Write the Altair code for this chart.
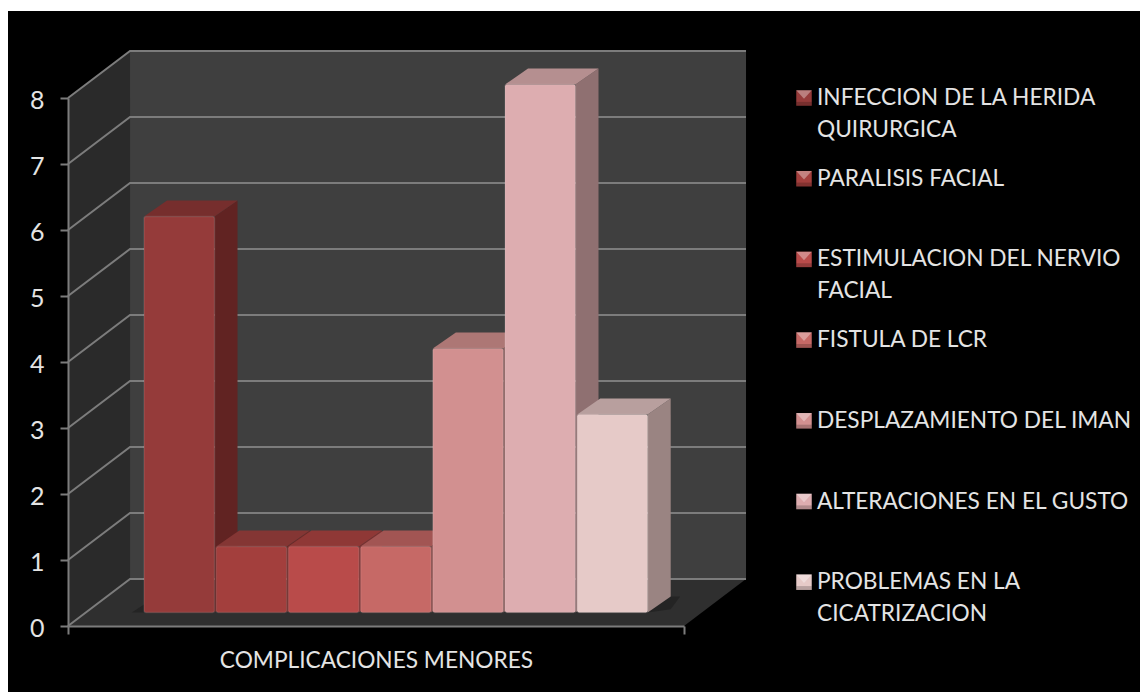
import altair as alt
import pandas as pd

# ---- values
series = ["INFECCION DE LA HERIDA QUIRURGICA", "PARALISIS FACIAL", "ESTIMULACION DEL NERVIO FACIAL",
          "FISTULA DE LCR", "DESPLAZAMIENTO DEL IMAN", "ALTERACIONES EN EL GUSTO",
          "PROBLEMAS EN LA CICATRIZACION"]
legend_lines = [["INFECCION DE LA HERIDA", "QUIRURGICA"], ["PARALISIS FACIAL"],
                ["ESTIMULACION DEL NERVIO", "FACIAL"], ["FISTULA DE LCR"],
                ["DESPLAZAMIENTO DEL IMAN"], ["ALTERACIONES EN EL GUSTO"],
                ["PROBLEMAS EN LA", "CICATRIZACION"]]
values = [6, 1, 1, 1, 4, 8, 3]
category = "COMPLICACIONES MENORES"
y_ticks = [0, 1, 2, 3, 4, 5, 6, 7, 8]

# ---- styles
front = ["#953B3A", "#A33F3D", "#B94B4A", "#C66966", "#D29090", "#DDADB0", "#E6CAC8"]
top_c = ["#762E2D", "#843634", "#8F3836", "#A25553", "#AD7775", "#B58F90", "#B89F9E"]
side = ["#612322", "#6E2A28", "#7A3030", "#854B49", "#8C6261", "#8F7071", "#9A8482"]
WALL, SIDEWALL, FLOOR, GRID, TEXT = "#3F3F3F", "#2A2A2A", "#2F2F2F", "#7C7C7C", "#E4E4E4"
FONT = "Lato"

# ---- geometry in axis units (1 x unit = one bar pitch)
X_MAX = 8.532
WALL_DX, WALL_DY = 0.859, 0.712
BAR_X0, BAR_W, BAR_BASE = 1.053, 0.976, 0.205
BAR_DX, BAR_DY = 0.319, 0.242

fronts, sides, tops = [], [], []
for i, (s, v) in enumerate(zip(series, values)):
    x0 = BAR_X0 + i
    x1 = x0 + BAR_W
    b, t = BAR_BASE, BAR_BASE + v
    fronts.append(dict(s=s, c=front[i], x=x0, x2=x1, y=b, y2=t))
    sides += [dict(s=s, c=side[i], x=x1, y=b, y2=t), dict(s=s, c=side[i], x=x1 + BAR_DX, y=b + BAR_DY, y2=t + BAR_DY)]
    tops += [dict(s=s, c=top_c[i], y=t, x=x0, x2=x1), dict(s=s, c=top_c[i], y=t + BAR_DY, x=x0 + BAR_DX, x2=x1 + BAR_DX)]

xs = alt.Scale(domain=[0, X_MAX], nice=False, zero=False)
ys = alt.Scale(domain=[0, 8], nice=False, zero=False)
x_axis = alt.Axis(values=[0, X_MAX], labels=False, grid=False, tickSize=8, tickColor=GRID, tickWidth=2,
                  domainColor=GRID, domainWidth=2, titleColor=TEXT, titleFont=FONT, titleFontSize=22.7,
                  titleFontWeight="normal", titlePadding=14, zindex=1)
y_axis = alt.Axis(values=y_ticks, format="d", grid=False, tickSize=8, tickColor=GRID, tickWidth=2,
                  domainColor=GRID, domainWidth=2, labelColor=TEXT, labelFont=FONT, labelFontSize=25,
                  labelPadding=16, labelOffset=2, zindex=1)
X = lambda f="x": alt.X(f"{f}:Q", scale=xs, axis=x_axis, title=category)
Y = lambda f="y": alt.Y(f"{f}:Q", scale=ys, axis=y_axis, title=None, stack=None)
C = alt.Color("c:N", scale=None, legend=None)

# walls and floor
back = alt.Chart(pd.DataFrame([dict(x=WALL_DX, x2=X_MAX + WALL_DX, y=WALL_DY, y2=8 + WALL_DY)])).mark_rect(
    color=WALL).encode(x=X(), x2="x2:Q", y=Y(), y2="y2:Q")
left_wall = alt.Chart(pd.DataFrame([dict(x=0, y=0, y2=8), dict(x=WALL_DX, y=WALL_DY, y2=8 + WALL_DY)])).mark_area(
    color=SIDEWALL, opacity=1).encode(x=X(), y=Y(), y2="y2:Q")
floor = alt.Chart(pd.DataFrame([dict(y=0, x=0, x2=X_MAX), dict(y=WALL_DY, x=WALL_DX, x2=X_MAX + WALL_DX)])).mark_area(
    color=FLOOR, opacity=1, orient="horizontal").encode(y=Y(), x=X(), x2="x2:Q")

# grid
grid_rows = []
for v in y_ticks:
    grid_rows += [dict(v=v, o=0, x=0, y=v), dict(v=v, o=1, x=WALL_DX, y=v + WALL_DY),
                  dict(v=v, o=2, x=X_MAX + WALL_DX, y=v + WALL_DY)]
grid = alt.Chart(pd.DataFrame(grid_rows)).mark_line(color=GRID, strokeWidth=2).encode(
    x=X(), y=Y(), detail="v:N", order="o:Q")

# floor shadows either side of the bars
shadow = alt.Chart(pd.DataFrame([
    dict(x=BAR_X0 + 6 + BAR_W, y=BAR_BASE, y2=BAR_BASE),
    dict(x=BAR_X0 + 6 + BAR_W + BAR_DX, y=BAR_BASE + BAR_DY * 0.2, y2=BAR_BASE + BAR_DY),
    dict(x=BAR_X0 + 6 + BAR_W + 0.45, y=BAR_BASE + BAR_DY, y2=BAR_BASE + BAR_DY),
])).mark_area(color="#242424", opacity=1).encode(x=X(), y=Y(), y2="y2:Q")
shadow_l = alt.Chart(pd.DataFrame([
    dict(x=BAR_X0 - 0.17, y=BAR_BASE, y2=BAR_BASE),
    dict(x=BAR_X0, y=BAR_BASE, y2=BAR_BASE + 0.12),
])).mark_area(color="#242424", opacity=1).encode(x=X(), y=Y(), y2="y2:Q")

# bars
side_l = alt.Chart(pd.DataFrame(sides)).mark_area(opacity=1).encode(
    x=X(), y=Y(), y2="y2:Q", color=C, detail="s:N")
top_l = alt.Chart(pd.DataFrame(tops)).mark_area(opacity=1, orient="horizontal").encode(
    y=Y(), x=X(), x2="x2:Q", color=C, detail="s:N")
front_l = alt.Chart(pd.DataFrame(fronts)).mark_rect(
    cornerRadius=2, stroke="#FFFFFF", strokeOpacity=0.1, strokeWidth=1.5).encode(
    x=X(), x2="x2:Q", y=Y(), y2="y2:Q", color=C)

# legend, laid out as rows of a fixed pitch, in y-axis units from the top of the axis
LEG_X, LEG_MARK_X, LEG_PITCH, LINE_H = 749, 736, 80.7 / 66, 32 / 66
LEG_TOP = 8
txt_rows, mark_rows = [], []
for i, (s, lines) in enumerate(zip(series, legend_lines)):
    py = LEG_TOP - i * LEG_PITCH
    mark_rows.append(dict(s=s, y=py, c=front[i]))
    for j, line in enumerate(lines):
        txt_rows.append(dict(t=line, y=py - j * LINE_H))
leg_text = alt.Chart(pd.DataFrame(txt_rows)).mark_text(
    align="left", baseline="middle", font=FONT, fontSize=22.7, color=TEXT).encode(
    x=alt.value(LEG_X), y=Y(), text="t:N")
leg_sq = alt.Chart(pd.DataFrame(mark_rows)).mark_point(shape="square", filled=True, size=240, opacity=1).encode(
    x=alt.value(LEG_MARK_X), y=Y(), color=C)
leg_tri = alt.Chart(pd.DataFrame(mark_rows)).mark_point(
    shape="M-1,-1L1,-1L0,0.1Z", filled=True, size=240, opacity=0.35, color="#FFFFFF").encode(
    x=alt.value(LEG_MARK_X), y=Y())
leg_dark = alt.Chart(pd.DataFrame(mark_rows)).mark_point(
    shape="M-1,1L1,1L1,0.5L-1,0.5Z", filled=True, size=240, opacity=0.2, color="#000000").encode(
    x=alt.value(LEG_MARK_X), y=Y())

# white band above the black page
band = alt.Chart(pd.DataFrame([dict(a=0)])).mark_rect(color="#FFFFFF").encode(
    x=alt.value(-60), x2=alt.value(1072), y=alt.value(-90), y2=alt.value(-87))

chart = alt.layer(back, left_wall, floor, grid, shadow, shadow_l, side_l, top_l, front_l,
                  leg_sq, leg_tri, leg_dark, leg_text, band
                  ).properties(
    width=616, height=528, background="#000000",
    padding={"left": 60, "top": 90, "right": 456, "bottom": 66},
    autosize=alt.AutoSizeParams(type="none"),
).configure_view(stroke=None)

chart.save("out.html", embed_options={"renderer": "svg", "actions": False})
